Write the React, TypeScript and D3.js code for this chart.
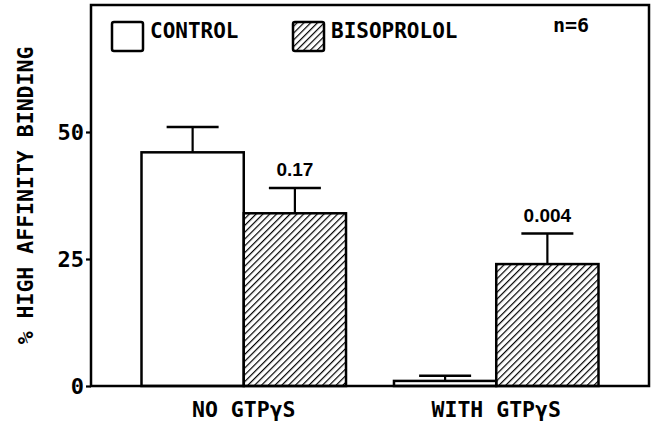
import { useEffect, useRef } from 'react';
import * as d3 from 'd3';

// Data
const groups: string[] = ['NO GTPγS', 'WITH GTPγS'];
const series: string[] = ['CONTROL', 'BISOPROLOL'];
const controlValues: number[] = [46, 1];
const controlErrors: number[] = [5, 1];
const bisoprololValues: number[] = [34, 24];
const bisoprololErrors: number[] = [5, 6];
const pValues: string[] = ['0.17', '0.004'];
const yTicks: number[] = [0, 25, 50];

const MONO = '"DejaVu Sans Mono", monospace';
const SANS = '"Liberation Sans", Arial, sans-serif';

interface BarDatum {
    group: string;
    key: string;
    value: number;
    err: number;
}

export default function App() {
    const svgRef = useRef<SVGSVGElement | null>(null);

    useEffect(() => {
        if (!svgRef.current) return;
        const svg = d3.select(svgRef.current);
        svg.selectAll('*').remove();

        const width = 652;
        const height = 423;
        const margin = { top: 5, right: 3, bottom: 37, left: 91 };
        const innerW = width - margin.left - margin.right;
        const innerH = height - margin.top - margin.bottom;

        // hatch pattern for bisoprolol
        const defs = svg.append('defs');
        defs.append('pattern')
            .attr('id', 'hatch')
            .attr('patternUnits', 'userSpaceOnUse')
            .attr('width', 4.8)
            .attr('height', 4.8)
            .attr('patternTransform', 'rotate(45)')
            .append('line')
            .attr('x1', 0).attr('y1', 0)
            .attr('x2', 0).attr('y2', 4.8)
            .attr('stroke', '#000')
            .attr('stroke-width', 2.4);

        const g = svg.append('g').attr('transform', `translate(${margin.left},${margin.top})`);

        const x0 = d3.scaleBand<string>()
            .domain(groups)
            .range([0, innerW])
            .paddingInner(0.19)
            .paddingOuter(0.2);
        const x1 = d3.scaleBand<string>()
            .domain(series)
            .range([0, x0.bandwidth()]);
        const y = d3.scaleLinear().domain([0, 75]).range([innerH, 0]);

        const bars: BarDatum[] = [];
        groups.forEach((grp, i) => {
            bars.push({ group: grp, key: series[0], value: controlValues[i], err: controlErrors[i] });
            bars.push({ group: grp, key: series[1], value: bisoprololValues[i], err: bisoprololErrors[i] });
        });
        const cx = (d: BarDatum) => (x0(d.group) ?? 0) + (x1(d.key) ?? 0) + x1.bandwidth() / 2;

        // bars
        g.selectAll('rect.bar')
            .data(bars)
            .join('rect')
            .attr('class', 'bar')
            .attr('x', d => (x0(d.group) ?? 0) + (x1(d.key) ?? 0))
            .attr('y', d => y(d.value))
            .attr('width', x1.bandwidth())
            .attr('height', d => y(0) - y(d.value))
            .attr('fill', d => (d.key === series[1] ? 'url(#hatch)' : '#fff'))
            .attr('stroke', '#000')
            .attr('stroke-width', 2.5);

        // error bars (upper only)
        const capHalf = 26;
        const errG = g.selectAll('g.err').data(bars).join('g').attr('class', 'err');
        errG.append('line')
            .attr('x1', cx).attr('x2', cx)
            .attr('y1', d => y(d.value))
            .attr('y2', d => y(d.value + d.err))
            .attr('stroke', '#000').attr('stroke-width', 2.2);
        errG.append('line')
            .attr('x1', d => cx(d) - capHalf)
            .attr('x2', d => cx(d) + capHalf)
            .attr('y1', d => y(d.value + d.err))
            .attr('y2', d => y(d.value + d.err))
            .attr('stroke', '#000').attr('stroke-width', 2.5);

        // p-values above bisoprolol bars
        g.selectAll('text.p')
            .data(bars.filter(d => d.key === series[1]))
            .join('text')
            .attr('class', 'p')
            .attr('x', cx)
            .attr('y', d => y(d.value + d.err) - 12)
            .attr('text-anchor', 'middle')
            .attr('font-family', SANS)
            .attr('font-weight', 'bold')
            .attr('font-size', 19)
            .text((_, i) => pValues[i]);

        // frame
        g.append('rect')
            .attr('x', 0).attr('y', 0)
            .attr('width', innerW).attr('height', innerH)
            .attr('fill', 'none')
            .attr('stroke', '#000')
            .attr('stroke-width', 2.5);

        // y axis
        const yAxis = g.append('g')
            .call(d3.axisLeft(y).tickValues(yTicks).tickSize(5).tickPadding(2).tickFormat(d3.format('d')));
        yAxis.select('.domain').remove();
        yAxis.selectAll('line').attr('stroke-width', 2.2);
        yAxis.selectAll('text')
            .attr('font-family', MONO)
            .attr('font-weight', 'bold')
            .attr('font-size', 22)
            .attr('fill', '#000');

        // x labels
        g.selectAll('text.xl')
            .data(groups)
            .join('text')
            .attr('class', 'xl')
            .attr('x', d => (x0(d) ?? 0) + x0.bandwidth() / 2)
            .attr('y', innerH + 31)
            .attr('text-anchor', 'middle')
            .attr('font-family', MONO)
            .attr('font-weight', 'bold')
            .attr('font-size', 21.5)
            .text(d => d);

        // y label
        svg.append('text')
            .attr('transform', `translate(33,${margin.top + innerH / 2}) rotate(-90)`)
            .attr('text-anchor', 'middle')
            .attr('font-family', MONO)
            .attr('font-weight', 'bold')
            .attr('font-size', 21.5)
            .text('% HIGH AFFINITY BINDING');

        // legend
        const legend = svg.append('g');
        const legendX = [112, 293];
        series.forEach((s, i) => {
            legend.append('rect')
                .attr('x', legendX[i]).attr('y', 22)
                .attr('width', 31).attr('height', 29)
                .attr('rx', 2)
                .attr('fill', i === 1 ? 'url(#hatch)' : '#fff')
                .attr('stroke', '#000')
                .attr('stroke-width', 2.5);
            legend.append('text')
                .attr('x', legendX[i] + 38).attr('y', 38)
                .attr('font-family', MONO)
                .attr('font-weight', 'bold')
                .attr('font-size', 21)
                .text(s);
        });
        legend.append('text')
            .attr('x', 553).attr('y', 32)
            .attr('font-family', MONO)
            .attr('font-weight', 'bold')
            .attr('font-size', 20)
            .text('n=6');

        return () => {
            svg.selectAll('*').remove();
        };
    }, []);

    return (
        <svg
            ref={svgRef}
            width={652}
            height={423}
            style={{ position: 'absolute', left: 0, top: 0, background: '#fff' }}
        />
    );
}
